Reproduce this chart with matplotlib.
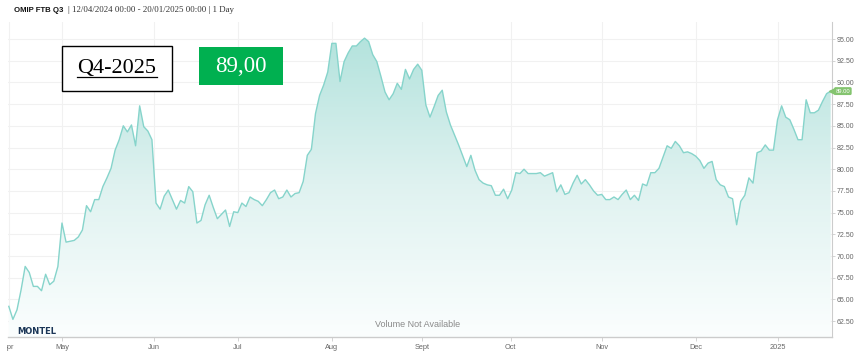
import matplotlib
matplotlib.use("Agg")
import matplotlib.pyplot as plt
import numpy as np
from matplotlib.transforms import Bbox, TransformedBbox
from matplotlib.patches import Rectangle
from matplotlib.lines import Line2D

# trading-day index (0 = 12/04/2024) and settlement price
day = [0, 1, 2, 3, 4, 5, 6, 7, 8, 9, 10, 11, 12, 13, 14, 15, 16, 17, 18, 19,
       20, 21, 22, 23, 24, 25, 26, 27, 28, 29, 30, 31, 32, 33, 34, 35, 36, 37, 38, 39,
       41, 42, 43, 44, 45, 46, 47, 48, 49, 50, 51, 52, 53, 54, 55, 56, 57, 58, 59, 60,
       61, 62, 63, 64, 65, 66, 67, 68, 69, 70, 71,
       72, 73, 74, 75, 76, 77, 78, 79, 80, 81, 82, 83, 84, 85, 86, 87, 88, 89, 90,
       91, 92, 93, 94, 95, 96, 97, 98, 99, 100, 101, 102, 103, 104, 105, 106, 107, 108,
       110, 112, 113, 114, 115, 116, 117, 118, 119, 120, 121, 122, 123, 124, 125, 126,
       127, 128, 129, 130, 131, 132, 133, 134, 135, 136, 137, 138, 139, 140, 141, 142,
       143, 144, 145, 146, 147, 148, 149, 150, 151, 152, 153, 154, 155, 156, 157, 158,
       159, 161, 162, 163, 164, 165, 166, 167, 168, 169, 170, 171, 172, 173, 174, 175,
       176, 177, 178, 179, 180, 181, 182, 183, 184, 185, 186, 187, 188, 189, 190, 191,
       192, 193, 194, 195, 196, 197, 198, 199, 200, 201]
price = [64.2, 62.7, 63.8, 66.1, 68.8, 68.1, 66.5, 66.5, 66.0, 67.9, 66.7, 67.1, 68.8, 73.8, 71.6, 71.7, 71.8, 72.2, 73.0, 75.8,
         75.1, 76.5, 76.5, 78.0, 79.0, 80.1, 82.2, 83.4, 85.0, 84.3, 85.1, 82.7, 87.3, 84.9, 84.4, 83.4, 76.1, 75.4, 76.9, 77.6,
         75.4, 76.4, 76.1, 78.0, 77.4, 73.8, 74.1, 75.9, 77.0, 75.6, 74.3, 74.8, 75.3, 73.4, 75.1, 75.0, 76.1, 75.7, 76.8, 76.5,
         76.3, 75.8, 76.5, 77.3, 77.6, 76.6, 76.8, 77.6, 76.8, 77.2, 77.3,
         78.6, 81.6, 82.3, 86.4, 88.5, 89.7, 91.2, 94.5, 94.5, 90.1, 92.4, 93.4, 94.2, 94.2, 94.7, 95.1, 94.7, 93.2, 92.4,
         90.7, 88.9, 88.0, 88.7, 89.9, 89.2, 91.5, 90.4, 91.5, 92.1, 91.4, 87.4, 86.0, 87.2, 88.5, 89.1, 86.6, 85.1,
         82.8, 80.3, 81.6, 79.9, 78.8, 78.4, 78.2, 78.1, 77.0, 77.0, 77.7, 76.6, 77.6, 79.6, 79.5, 80.0,
         79.5, 79.5, 79.5, 79.6, 79.2, 79.4, 79.6, 77.4, 78.2, 77.1, 77.3, 78.4, 79.3, 78.3, 78.8, 78.2,
         77.5, 77.0, 77.1, 76.5, 76.5, 76.8, 76.5, 77.1, 77.6, 76.5, 77.0, 76.4, 78.3, 78.1, 79.6, 79.6,
         80.1, 82.7, 82.4, 83.2, 82.7, 81.9, 82.0, 81.8, 81.5, 81.0, 80.1, 80.7, 80.9, 78.8, 78.2, 78.0,
         76.8, 76.6, 73.6, 76.3, 77.0, 79.0, 78.4, 81.9, 82.1, 82.8, 82.2, 82.2, 85.7, 87.3, 86.0, 85.7,
         84.6, 83.4, 83.4, 88.0, 86.5, 86.5, 86.8, 87.8, 88.7, 89.0]

month_pos = [13, 35.5, 56, 79, 101, 122.7, 145, 168, 188]
month_lbl = ["May", "Jun", "Jul", "Aug", "Sept", "Oct", "Nov", "Dec", "2025"]
y_ticks = [62.5, 65.0, 67.5, 70.0, 72.5, 75.0, 77.5, 80.0, 82.5, 85.0, 87.5, 90.0, 92.5, 95.0]

line_col = "#86d4cb"
grid_col = "#f1f1f1"

fig = plt.figure(figsize=(8.58, 3.6), dpi=100)
ax = fig.add_axes([8 / 858, 1 - 337 / 360, (831.5 - 8) / 858, (337 - 22) / 360])
ax.set_xlim(-0.2, 201.2)
ax.set_ylim(60.67, 96.96)

# gradient area under the curve
poly = ax.fill_between(day, price, 60.67, color="none", lw=0)
grad = np.linspace(0, 1, 256).reshape(-1, 1)
cmap = matplotlib.colors.LinearSegmentedColormap.from_list("g", ["#fbfefe", "#dff2f0", "#b1e2dc"])
img = ax.imshow(grad, aspect="auto", cmap=cmap, origin="lower",
                extent=[-0.2, 201.2, 60.67, 96.0], zorder=1)
img.set_clip_path(poly.get_paths()[0], transform=ax.transData)
ax.plot(day, price, color=line_col, lw=1.0, zorder=3)

# grid
for v in y_ticks:
    ax.axhline(v, color=grid_col, lw=0.8, zorder=0)
for p in month_pos:
    ax.axvline(p, color=grid_col, lw=0.8, zorder=0)
ax.axvline(0, color=grid_col, lw=0.8, zorder=0)

for s in ["top", "left"]:
    ax.spines[s].set_visible(False)
ax.spines["bottom"].set_color("#cccccc")
ax.spines["right"].set_color("#cccccc")
ax.spines["bottom"].set_linewidth(1.0)
ax.spines["right"].set_linewidth(0.8)

ax.yaxis.tick_right()
ax.set_yticks(y_ticks)
ax.set_yticklabels([f"{v:.2f}" for v in y_ticks])
ax.tick_params(axis="y", length=2, width=0.6, color="#cccccc", labelsize=5, labelcolor="#666666", pad=1.5)
ax.set_xticks(month_pos)
ax.set_xticklabels(month_lbl)
ax.tick_params(axis="x", length=3, width=0.6, color="#cccccc", labelsize=5.3, labelcolor="#666666", pad=2)
for t in ax.get_yticklabels() + ax.get_xticklabels():
    t.set_family("Liberation Sans")

# "Apr" label, cut off by the left edge of the chart
apr = ax.text(0, 60.67 - 0.8, "Apr", fontsize=5.3, color="#666666", family="Liberation Sans",
              ha="center", va="top")
apr.set_clip_box(TransformedBbox(Bbox([[6.5 / 858, 0], [1, 1]]), fig.transFigure))
apr.set_clip_on(True)

# last price tag
ax.text(202.2, 89.0, "89.00", fontsize=4.2, color="white", family="Liberation Sans",
        ha="left", va="center", clip_on=False,
        bbox=dict(boxstyle="round,pad=0.25", fc="#84c46f", ec="none"))
ax.plot([201.3], [89.0], marker="<", ms=4, color="#84c46f", clip_on=False, zorder=5)

ax.text(100, 62.15, "Volume Not Available", fontsize=6.5, color="#8a8a8a",
        family="Liberation Sans", ha="center", va="center")
fig.text(17 / 858, 1 - 331 / 360, "MONTEL", fontsize=6, fontweight="bold", color="#1b3657",
         family="DejaVu Sans", ha="left", va="center")

# header
fig.text(14 / 858, 1 - 10 / 360, "OMIP FTB Q3", fontsize=5.6, fontweight="bold",
         family="Liberation Sans", ha="left", va="center", color="#111111")
fig.text(67.5 / 858, 1 - 10 / 360, "| 12/04/2024 00:00 - 20/01/2025 00:00 | 1 Day", fontsize=6.4,
         family="Liberation Serif", ha="left", va="center", color="#333333")

# contract box
fig.patches.append(Rectangle((62 / 858, 1 - 91 / 360), 110 / 858, 45 / 360, transform=fig.transFigure,
                             fc="white", ec="black", lw=1.0, zorder=5))
fig.text(117 / 858, 1 - 68 / 360, "Q4-2025", fontsize=16, family="Liberation Serif",
         ha="center", va="center", color="black", zorder=6)
fig.lines.append(Line2D([77 / 858, 157 / 858], [1 - 77 / 360, 1 - 77 / 360], transform=fig.transFigure,
                        color="black", lw=0.9, zorder=6))

# price box
fig.patches.append(Rectangle((199 / 858, 1 - 85 / 360), 84 / 858, 38 / 360, transform=fig.transFigure,
                             fc="#00b050", ec="none", zorder=5))
fig.text(241 / 858, 1 - 66 / 360, "89,00", fontsize=16.5, family="Liberation Serif",
         ha="center", va="center", color="white", zorder=6)

fig.savefig("out.png", dpi=100)
